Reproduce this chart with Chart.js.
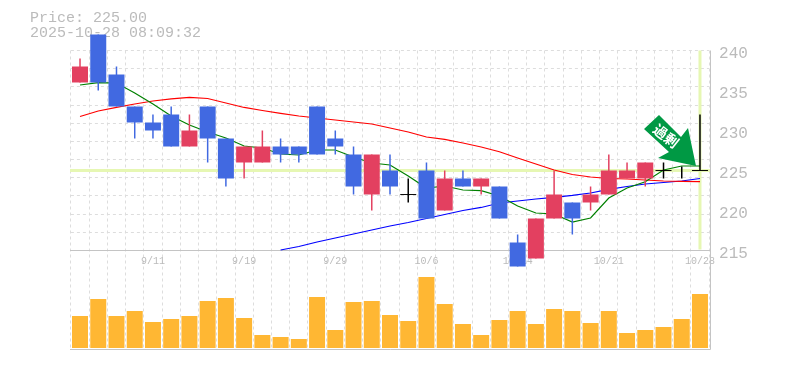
<!DOCTYPE html>
<html>
<head>
<meta charset="utf-8">
<style>
  html, body { margin: 0; padding: 0; background: #fff; }
</style>
<script src="https://cdn.jsdelivr.net/npm/chart.js@4/dist/chart.umd.min.js"></script>
</head>
<body>
<canvas id="chart" width="785" height="370" style="display:block"></canvas>
<script>
const dates = ['', '', '', '', '9/11', '', '', '', '', '9/19', '', '', '', '', '9/29', '', '', '', '', '10/6', '', '', '', '', '10/14', '', '', '', '', '10/21', '', '', '', '', '10/28'];

const opens  = [236, 242, 237, 233, 231, 232, 228, 233, 229, 226, 226, 228, 228, 233, 229, 227, 222, 225, 222, 225, 220, 224, 223, 223, 216, 214, 219, 221, 221, 222, 224, 224, 225, null, 225];
const closes = [238, 236, 233, 231, 230, 228, 230, 229, 224, 228, 228, 227, 227, 227, 228, 223, 227, 223, 222, 219, 224, 223, 224, 219, 213, 219, 222, 219, 222, 225, 225, 226, 225, null, 225];
const highs  = [239, 242, 238, 233, 232, 233, 232, 233, 229, 228, 230, 229, 228, 233, 230, 228, 227, 227, 224, 226, 225, 225, 224, 223, 217, 219, 225, 221, 223, 227, 226, 226, 226, 225.5, 232];
const lows   = [236, 235, 233, 229, 229, 228, 228, 226, 223, 224, 226, 226, 226, 227, 227, 222, 220, 222, 221, 219, 220, 223, 222, 219, 213, 214, 219, 217, 220, 222, 224, 223, 224, 224, 225];

const ma5 = [235.69, 235.98, 235.94, 234.69, 233.31, 231.81, 230.69, 229.81, 229.06, 228.06, 227.81, 227.06, 226.94, 227.56, 227.56, 226.69, 225.94, 225.69, 224.31, 222.81, 223.06, 222.56, 222.48, 221.81, 220.56, 219.69, 219.56, 218.56, 219.06, 221.56, 222.81, 223.6, 225.06, 225.56, 225.56];
const ma25 = [231.75, 232.44, 232.9, 233.31, 233.69, 233.96, 234.13, 234, 233.44, 232.88, 232.5, 232.13, 231.81, 231.56, 231.31, 231.06, 230.81, 230.31, 229.81, 229.19, 228.88, 228.44, 227.94, 227.35, 226.56, 225.81, 225.06, 224.5, 224.19, 224, 223.94, 223.81, 223.69, 223.65, 223.6];
const ma75 = [null, null, null, null, null, null, null, null, null, null, null, 215.06, 215.5, 216.06, 216.56, 217.06, 217.56, 218.06, 218.5, 219, 219.5, 220, 220.38, 220.94, 221.19, 221.44, 221.63, 221.88, 222.19, 222.63, 223, 223.31, 223.5, 223.69, 224];

const volumes = [32, 49, 32, 37, 26, 29, 32, 47, 50, 30, 13, 11, 9, 51, 18, 46, 47, 33, 27, 71, 44, 24, 13, 28, 37, 24, 39, 37, 25, 37, 15, 18, 21, 29, 54];

const priceTicks = [215, 220, 225, 230, 235, 240];
const gridDivisions = 11;
const currentPrice = 225;
const headerLines = ['Price: 225.00', '2025-10-28 08:09:32'];
const signalText = '過剰';

const MONO = '"Liberation Mono", "DejaVu Sans Mono", monospace';
const UP = '#e34060';
const DOWN = '#4169e1';
const BLACK = '#000';
const GRID = '#dddddd';
const AXIS = '#c4c4c4';
const HIGHLIGHT = '#e6f7b3';

function candleColor(i) {
  if (opens[i] === null || opens[i] === closes[i]) return BLACK;
  return closes[i] > opens[i] ? UP : DOWN;
}

// Doji gets a hairline body so it still draws as the cross bar
const bodies = opens.map((o, i) => {
  if (o === null) return null;
  return o === closes[i] ? [o - 0.06, o + 0.06] : [o, closes[i]];
});
const wicks = highs.map((h, i) => [lows[i], h]);
const colors = opens.map((_, i) => candleColor(i));

const lineDataset = (data, color) => ({
  type: 'line', data, yAxisID: 'y', borderColor: color, borderWidth: 1.2,
  pointRadius: 0, tension: 0, order: 5, clip: false, spanGaps: false,
});

const barDefaults = { type: 'bar', grouped: false, inflateAmount: 0, clip: false };

// Price line, time line, frame and header sit behind the candles
const backdropPlugin = {
  id: 'backdrop',
  beforeDatasetsDraw(chart) {
    const { ctx, scales, chartArea } = chart;
    const y = scales.y.getPixelForValue(currentPrice);
    const x = scales.x.getPixelForValue(dates.length - 1);
    ctx.save();
    ctx.strokeStyle = HIGHLIGHT;
    ctx.lineWidth = 3;
    ctx.beginPath();
    ctx.moveTo(70, y);
    ctx.lineTo(710, y);
    ctx.moveTo(x, scales.y.top);
    ctx.lineTo(x, scales.y.bottom - 1);
    ctx.stroke();

    ctx.strokeStyle = AXIS;
    ctx.lineWidth = 1;
    ctx.beginPath();
    ctx.moveTo(70, 250.5);
    ctx.lineTo(710, 250.5);
    ctx.moveTo(70, chartArea.bottom);
    ctx.lineTo(710.5, chartArea.bottom);
    ctx.moveTo(710.5, chartArea.top);
    ctx.lineTo(710.5, chartArea.bottom);
    ctx.stroke();

    ctx.fillStyle = '#bbbbbb';
    ctx.font = '15px ' + MONO;
    ctx.textBaseline = 'middle';
    headerLines.forEach((line, i) => ctx.fillText(line, 30, 18 + i * 15));
    ctx.restore();
  },
};

// Green signal arrow over the last candles, outline
const arrowOutline = [[659, 115], [644, 129], [669, 152], [658, 158], [696, 166], [688, 128], [681, 137]];
const arrowPlugin = {
  id: 'arrow',
  afterDatasetsDraw(chart) {
    const { ctx } = chart;
    ctx.save();
    ctx.fillStyle = '#009944';
    ctx.beginPath();
    arrowOutline.forEach(([x, y], i) => (i ? ctx.lineTo(x, y) : ctx.moveTo(x, y)));
    ctx.closePath();
    ctx.fill();
    ctx.translate(666, 136);
    ctx.rotate(38 * Math.PI / 180);
    ctx.fillStyle = '#fff';
    ctx.font = 'bold 14px "Noto Sans CJK JP"';
    ctx.textAlign = 'center';
    ctx.textBaseline = 'middle';
    ctx.fillText(signalText, 0, 0);
    ctx.restore();
  },
};

new Chart(document.getElementById('chart'), {
  data: {
    labels: dates,
    datasets: [
      lineDataset(ma5, '#008000'),
      lineDataset(ma25, '#ff0000'),
      lineDataset(ma75, '#0000ff'),
      { ...barDefaults, data: wicks, yAxisID: 'y', backgroundColor: colors, barThickness: 1.5, order: 2 },
      { ...barDefaults, data: bodies, yAxisID: 'y', backgroundColor: colors, barThickness: 16, order: 1 },
      { ...barDefaults, data: volumes, yAxisID: 'yVol', backgroundColor: '#ffb733', barThickness: 16, order: 3 },
    ],
  },
  options: {
    responsive: false,
    animation: false,
    layout: { padding: { top: 50.5, left: 70.9, right: 0, bottom: 20.5 } },
    plugins: { legend: { display: false }, tooltip: { enabled: false } },
    scales: {
      x: {
        position: { y: 215 },
        offset: true,
        grid: { color: GRID, drawTicks: false, offset: true },
        border: { display: false, dash: [3, 3] },
        ticks: {
          autoSkip: false, maxRotation: 0, padding: 5,
          color: '#bbbbbb', font: { family: MONO, size: 10 },
          callback: (_, i) => dates[i],
        },
      },
      y: {
        position: 'right',
        stack: 'panels',
        stackWeight: 200,
        min: 215,
        max: 240,
        afterBuildTicks(scale) {
          const grid = [];
          for (let i = 0; i <= gridDivisions; i++) grid.push({ value: 215 + i * 25 / gridDivisions });
          scale.ticks = grid.concat(priceTicks.map(value => ({ value, label: true })));
        },
        afterFit(scale) { scale.width = 75.9; },
        grid: {
          drawTicks: false,
          color: ctx => (ctx.tick && ctx.tick.label ? 'transparent' : GRID),
        },
        border: { display: false, dash: [3, 3] },
        ticks: {
          autoSkip: false, padding: 10, labelOffset: 3,
          color: '#bbbbbb', font: { family: MONO, size: 16 },
          callback: (value, i, ticks) => (ticks[i].label ? String(value) : ''),
        },
      },
      yVol: {
        position: 'right',
        stack: 'panels',
        stackWeight: 99,
        min: -1.5,
        max: 97.5,
        afterFit(scale) { scale.width = 75.9; },
        grid: { display: false },
        border: { display: false },
        ticks: { display: false },
      },
    },
  },
  plugins: [backdropPlugin, arrowPlugin],
});
</script>
</body>
</html>
